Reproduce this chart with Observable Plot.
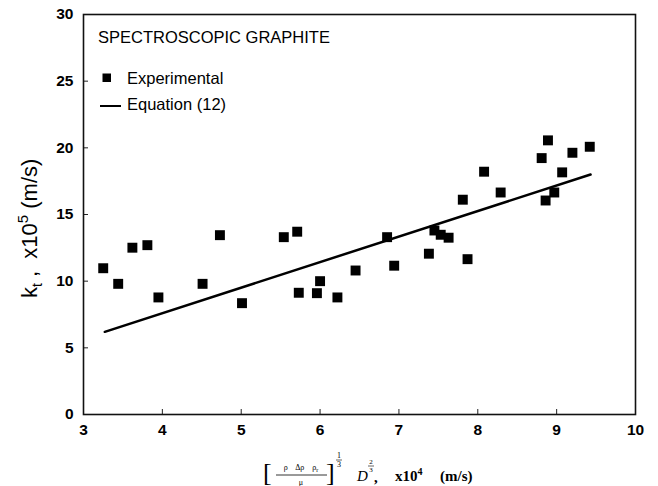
<!DOCTYPE html>
<html><head><meta charset="utf-8">
<script src="https://cdn.jsdelivr.net/npm/d3@7"></script>
<script src="https://cdn.jsdelivr.net/npm/@observablehq/plot@0.6"></script>
<style>body{margin:0;background:#fff}</style>
</head><body><div id="chart"></div>
<script>
// Experimental points
const expX = [3.25, 3.44, 3.62, 3.81, 3.95, 4.51, 4.73, 5.01, 5.54, 5.71, 5.73, 5.96, 6.00, 6.22, 6.45,
              6.85, 6.94, 7.38, 7.45, 7.53, 7.63, 7.81, 7.87, 8.08, 8.29, 8.81, 8.86, 8.89, 8.97, 9.07, 9.20, 9.42];
const expY = [10.97, 9.80, 12.51, 12.70, 8.78, 9.80, 13.45, 8.35, 13.30, 13.71, 9.13, 9.10, 10.0, 8.78, 10.80,
              13.30, 11.16, 12.06, 13.80, 13.48, 13.26, 16.11, 11.65, 18.21, 16.65, 19.23, 16.05, 20.56, 16.65, 18.16, 19.63, 20.08];
// Equation (12) line
const eqX = [3.27, 9.43];
const eqY = [6.2, 18.0];
// Ticks
const xTicks = [3, 4, 5, 6, 7, 8, 9, 10];
const yTicks = [0, 5, 10, 15, 20, 25, 30];
// Legend texts
const titleText = "SPECTROSCOPIC GRAPHITE";
const legendLabels = ["Experimental", "Equation (12)"];

const exp = expX.map((x, i) => ({x, y: expY[i]}));
const eq = eqX.map((x, i) => ({x, y: eqY[i]}));

const W = 658, H = 486, mL = 83, mR = 23, mT = 14, mB = 72;
const innerW = W - mL - mR, innerH = H - mT - mB;

const svgEl = Plot.plot({
  width: W, height: H,
  marginLeft: mL, marginRight: mR, marginTop: mT, marginBottom: mB,
  style: {fontFamily: "'Liberation Sans', Arial, sans-serif", background: "#fff", color: "#000", overflow: "visible"},
  x: {domain: [3, 10], label: null},
  y: {domain: [0, 30], label: null},
  marks: [
    Plot.ruleX(xTicks.slice(1, -1), {x: d => d, insetTop: innerH - 5, stroke: "#222", strokeWidth: 1}),
    Plot.ruleY(yTicks.slice(1, -1), {y: d => d, insetRight: innerW - 5, stroke: "#222", strokeWidth: 1}),
    Plot.frame({stroke: "#111", strokeWidth: 1.6}),
    Plot.axisX(xTicks, {tickSize: 0, tickPadding: 9, fontSize: 15.5, fontWeight: "bold", fill: "#000"}),
    Plot.axisY(yTicks, {tickSize: 0, tickPadding: 10, fontSize: 15.5, fontWeight: "bold", fill: "#000"}),
    Plot.line(eq, {x: "x", y: "y", stroke: "#000", strokeWidth: 2.5}),
    Plot.dot(exp, {x: "x", y: "y", symbol: "square", r: 5.6, fill: "#000", stroke: "none"})
  ]
});
document.getElementById("chart").appendChild(svgEl);

const svg = d3.select(svgEl);
const sans = "'Liberation Sans', Arial, sans-serif";
const serif = "'Liberation Serif', 'Times New Roman', serif";

// Legend
const lg = svg.append("g").attr("font-family", sans).attr("fill", "#000").attr("font-size", 16.5).attr("text-anchor", "start");
lg.append("text").attr("x", 98).attr("y", 43).text(titleText);
lg.append("rect").attr("x", 102.5).attr("y", 73.5).attr("width", 8.5).attr("height", 8.5).attr("fill", "#000");
lg.append("text").attr("x", 127).attr("y", 84).text(legendLabels[0]);
lg.append("line").attr("x1", 100).attr("x2", 121).attr("y1", 106).attr("y2", 106).attr("stroke", "#000").attr("stroke-width", 2);
lg.append("text").attr("x", 127).attr("y", 110).text(legendLabels[1]);

// Y axis label
const yl = svg.append("text").attr("transform", "translate(37,298) rotate(-90)").attr("text-anchor", "start")
  .attr("font-family", sans).attr("font-size", 22).attr("fill", "#000");
yl.append("tspan").text("k");
yl.append("tspan").attr("font-size", 14).attr("dy", 5).text("t");
yl.append("tspan").attr("dy", -5).text(" ,  x10");
yl.append("tspan").attr("font-size", 15).attr("dy", -9).text("5");
yl.append("tspan").attr("dy", 9).text(" (m/s)");

// X axis label (formula)
const xl = svg.append("g").attr("font-family", serif).attr("fill", "#000").attr("text-anchor", "start");
xl.append("text").attr("x", 263).attr("y", 481).attr("font-size", 26).text("[");
xl.append("text").attr("x", 301).attr("y", 470).attr("font-size", 8).attr("text-anchor", "middle")
  .text("\u03C1    \u0394\u03C1    \u03C1").append("tspan").attr("font-size", 6).attr("dy", 1.5).text("r");
xl.append("line").attr("x1", 276).attr("x2", 327).attr("y1", 475).attr("y2", 475).attr("stroke", "#000").attr("stroke-width", 0.8);
xl.append("text").attr("x", 301).attr("y", 485).attr("font-size", 8).attr("text-anchor", "middle").text("\u03BC");
xl.append("text").attr("x", 326).attr("y", 481).attr("font-size", 26).text("]");
xl.append("text").attr("x", 339).attr("y", 458).attr("font-size", 8).attr("text-anchor", "middle").text("1");
xl.append("line").attr("x1", 336).attr("x2", 342).attr("y1", 460).attr("y2", 460).attr("stroke", "#000").attr("stroke-width", 0.6);
xl.append("text").attr("x", 339).attr("y", 467).attr("font-size", 8).attr("text-anchor", "middle").text("3");
xl.append("text").attr("x", 357).attr("y", 481).attr("font-size", 15).attr("font-style", "italic").text("D");
xl.append("text").attr("x", 371).attr("y", 464).attr("font-size", 7).attr("text-anchor", "middle").text("2");
xl.append("line").attr("x1", 368).attr("x2", 374).attr("y1", 466).attr("y2", 466).attr("stroke", "#000").attr("stroke-width", 0.6);
xl.append("text").attr("x", 371).attr("y", 472).attr("font-size", 7).attr("text-anchor", "middle").text("3");
xl.append("text").attr("x", 374).attr("y", 482).attr("font-size", 15).attr("font-weight", "bold").text(",");
const xt = xl.append("text").attr("x", 395).attr("y", 481).attr("font-size", 15).attr("font-weight", "bold");
xt.append("tspan").text("x10");
xt.append("tspan").attr("font-size", 10).attr("dy", -6).text("4");
xl.append("text").attr("x", 440).attr("y", 481).attr("font-size", 15).attr("font-weight", "bold").text("(m/s)");
</script>
</body></html>
